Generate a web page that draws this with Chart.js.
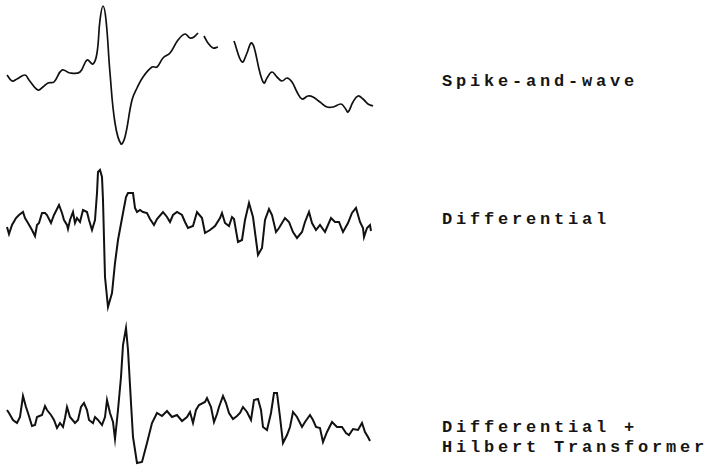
<!DOCTYPE html>
<html>
<head>
<meta charset="utf-8">
<script src="https://cdn.jsdelivr.net/npm/chart.js@4.4.1/dist/chart.umd.min.js"></script>
<style>
  html, body { margin: 0; padding: 0; background: #fff; }
  #page { position: relative; width: 711px; height: 471px; overflow: hidden; }
  .band { position: absolute; left: 0; width: 380px; }
  .label {
    position: absolute; left: 442px;
    font-family: "Liberation Mono", "DejaVu Sans Mono", monospace;
    font-size: 17px; font-weight: bold; letter-spacing: 3.8px; line-height: 20px; color: #151515;
    white-space: pre;
  }
</style>
</head>
<body>
<div id="page">
  <div class="band" style="top:0;height:160px"><canvas id="c1"></canvas></div>
  <div class="band" style="top:160px;height:160px"><canvas id="c2"></canvas></div>
  <div class="band" style="top:320px;height:151px"><canvas id="c3"></canvas></div>
  <div class="label" style="top:72px">Spike-and-wave</div>
  <div class="label" style="top:210px">Differential</div>
  <div class="label" style="top:418px">Differential +
Hilbert Transformer</div>
</div>
<script>
// sample positions and amplitudes for each trace (arbitrary units, up = positive)
const timeSpike = [7, 12, 17, 25, 29, 38, 43, 48, 54, 62, 70, 80, 87, 93, 97, 100, 103, 106, 110, 115,
  121, 125, 132, 137, 143, 152, 157, 163, 170, 178, 185, 190, 194, 198, 201, 204, 208, 213, 218, 226,
  234, 242, 247, 251, 254, 260, 264, 267, 272, 277, 282, 287, 292, 297, 302, 308, 313, 320, 327, 333,
  341, 345, 348, 353, 358, 363, 368, 373];
const ampSpike = [0, -6, -4, 0, -5, -15, -12, -8, -7, 5, 2, 3, 15, 11, 22, 55, 69, 55, 2, -48,
  -69, -62, -25, -13, -2, 8, 8, 17, 22, 35, 41, 37, 38, 42, null, 39, 32, 27, 28, null,
  34, 13, 22, 32, 28, 2, -8, -3, 3, -2, -6, -3, -7, -17, -24, -21, -22, -27, -32, -32,
  -29, -33, -37, -27, -21, -24, -29, -31];

const timeDiff = [7, 9, 12, 16, 19, 23, 25, 28, 32, 35, 37, 39, 42, 45, 47, 51, 54, 57, 59, 62,
  64, 67, 68, 70, 73, 75, 77, 80, 83, 87, 89, 92, 95, 97, 98, 100, 102, 103, 105, 108,
  112, 115, 118, 123, 126, 128, 133, 135, 137, 140, 143, 147, 150, 154, 157, 163, 167, 170, 173, 177,
  182, 185, 188, 193, 197, 202, 205, 210, 215, 220, 222, 225, 229, 232, 234, 238, 242, 245, 249, 253,
  258, 262, 265, 269, 272, 276, 279, 285, 289, 293, 297, 302, 305, 309, 312, 316, 320, 325, 331, 335,
  339, 343, 348, 352, 356, 360, 363, 364, 367, 370, 371];
const ampDiff = [-5, -12, -3, 4, 7, 10, 4, -1, -8, -14, -3, -1, 9, 9, 7, -1, 7, 13, 17, 9,
  2, -3, -7, 2, 10, -1, 4, 0, 12, 10, 2, -8, 2, 29, 50, 52, 45, 22, -55, -85,
  -71, -41, -18, 9, 25, 29, 29, 14, 10, 12, 10, 9, 3, -3, 3, 10, 5, 0, 7, 10,
  7, 0, -6, -4, 10, 4, -11, -8, -4, 4, 9, -1, -4, 5, 3, -20, -18, 2, 19, 5,
  -33, -26, 2, 13, 7, -10, -6, 4, 0, -10, -16, -10, 0, 10, -1, -8, -3, -10, 4, 0,
  0, -10, -1, 9, 14, 0, -6, -15, -6, -3, -9];

const timeHilb = [7, 9, 13, 17, 20, 23, 26, 28, 32, 35, 37, 42, 45, 47, 51, 54, 57, 60, 63, 65,
  67, 70, 75, 78, 81, 84, 87, 89, 93, 95, 98, 102, 105, 107, 110, 113, 115, 118, 121, 123,
  126, 128, 131, 133, 137, 142, 147, 152, 157, 162, 167, 172, 177, 182, 187, 190, 193, 196, 199, 205,
  207, 211, 214, 217, 219, 223, 226, 229, 233, 237, 240, 243, 247, 251, 254, 258, 261, 263, 267, 271,
  274, 277, 280, 283, 287, 290, 293, 297, 302, 305, 310, 313, 316, 320, 323, 327, 332, 337, 342, 346,
  349, 353, 358, 362, 365, 368, 370];
const ampHilb = [7, 4, -3, -6, 0, 21, 10, 4, -9, -8, 0, 2, 11, 7, 2, -3, -11, -6, -10, -1,
  10, 0, -6, -3, 10, 14, 7, -3, -6, 0, -3, -8, 0, 17, 4, -5, -22, 7, 40, 72,
  89, 67, 14, -20, -46, -45, -26, -6, 4, 1, 6, 0, 2, -4, 0, 5, -6, 7, 12, 15,
  19, 10, -5, 3, 10, 21, 14, 4, -2, 1, 4, 10, 5, -3, 17, 18, 7, -10, -13, 4,
  24, 24, 0, -26, -18, -10, 5, 0, -10, -5, 2, -3, -10, -11, -25, -15, -5, -10, -10, -16,
  -18, -12, -13, -6, -15, -20, -24];

// vertical range of each band, in amplitude units
const bands = [
  { id: 'c1', t: timeSpike, a: ampSpike, min: -85, max: 75, tension: 0.4, width: 1.7 },
  { id: 'c2', t: timeDiff, a: ampDiff, min: -98, max: 62, tension: 0, width: 2 },
  { id: 'c3', t: timeHilb, a: ampHilb, min: -54, max: 97, tension: 0, width: 2 },
];

bands.forEach(b => {
  const pts = b.t.map((x, i) => ({ x, y: b.a[i] }));
  new Chart(document.getElementById(b.id), {
    type: 'line',
    data: {
      datasets: [{
        data: pts,
        borderColor: '#111',
        borderWidth: b.width,
        pointRadius: 0,
        tension: b.tension,
        spanGaps: false,
        fill: false,
      }]
    },
    options: {
      responsive: true,
      maintainAspectRatio: false,
      animation: false,
      events: [],
      layout: { padding: 0 },
      plugins: { legend: { display: false }, tooltip: { enabled: false } },
      scales: {
        x: { type: 'linear', min: 0, max: 380, display: false },
        y: { min: b.min, max: b.max, display: false }
      }
    }
  });
});
</script>
</body>
</html>
